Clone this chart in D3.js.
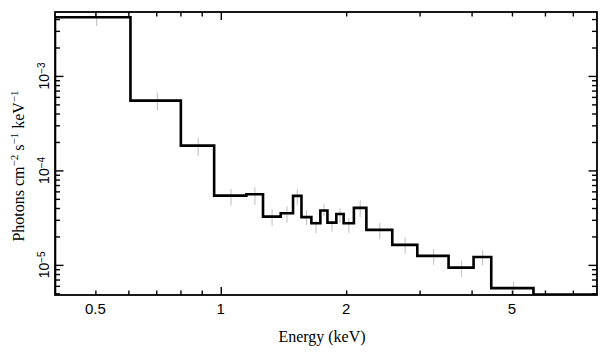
<!DOCTYPE html>
<html><head><meta charset="utf-8">
<script src="https://cdn.jsdelivr.net/npm/d3@7"></script>
<style>
html,body{margin:0;padding:0;background:#fff;}
svg{display:block;}
</style></head>
<body>
<svg id="c" width="609" height="357"></svg>
<script>
// ---- data ----
const binEdges = [0.4, 0.607, 0.802, 0.964, 1.152, 1.263, 1.393, 1.491, 1.562, 1.650, 1.734, 1.803, 1.894, 1.972, 2.087, 2.236, 2.580, 2.963, 3.522, 4.044, 4.459, 5.631, 8.0];
const modelValues = [4.18e-3, 5.48e-4, 1.83e-4, 5.41e-5, 5.60e-5, 3.24e-5, 3.52e-5, 5.37e-5, 3.20e-5, 2.76e-5, 3.76e-5, 2.80e-5, 3.46e-5, 2.76e-5, 4.01e-5, 2.35e-5, 1.63e-5, 1.245e-5, 9.36e-6, 1.21e-5, 5.67e-6, 4.85e-6];
const errHigh = [4.9e-3, 6.66e-4, 2.22e-4, 6.37e-5, 6.64e-5, 3.88e-5, 4.14e-5, 6.37e-5, 3.82e-5, 2.94e-5, 4.42e-5, 2.87e-5, 3.98e-5, 3.14e-5, 4.79e-5, 2.80e-5, 1.96e-5, 1.47e-5, 1.11e-5, 1.44e-5, 6.66e-6, null];
const errLow  = [3.38e-3, 4.29e-4, 1.42e-4, 4.24e-5, 4.31e-5, 2.59e-5, 2.80e-5, 4.31e-5, 2.65e-5, 2.16e-5, 3.30e-5, 2.25e-5, 2.78e-5, 2.16e-5, 3.20e-5, 1.87e-5, 1.31e-5, 1.0e-5, 7.41e-6, 9.83e-6, 4.6e-6, null];
const xLabelTicks = [0.5, 1, 2, 5];
const xMajorTicks = [1];
const xMinorTicks = [0.5, 0.6, 0.7, 0.8, 0.9, 2, 3, 4, 5, 6, 7];
const yLabelTicks = [{v:1e-3, e:"−3"}, {v:1e-4, e:"−4"}, {v:1e-5, e:"−5"}];
const yMajorTicks = [1e-3, 1e-4, 1e-5];
const yMinorTicks = [5e-6,6e-6,7e-6,8e-6,9e-6, 2e-5,3e-5,4e-5,5e-5,6e-5,7e-5,8e-5,9e-5, 2e-4,3e-4,4e-4,5e-4,6e-4,7e-4,8e-4,9e-4, 2e-3,3e-3,4e-3];

// ---- layout ----
const L = 55, R = 597, T = 12, B = 295;
const svg = d3.select("#c");
const x = d3.scaleLog().domain([0.4, 8]).range([L, R]);
const y = d3.scaleLog().domain([4.8e-6, 4.75e-3]).range([B, T]);

svg.append("defs").append("clipPath").attr("id","clip")
  .append("rect").attr("x",L).attr("y",T).attr("width",R-L).attr("height",B-T);

// error bars (grey)
const bins = modelValues.map((m,i)=>({lo:binEdges[i], hi:binEdges[i+1], m, eh:errHigh[i], el:errLow[i]}));
const gErr = svg.append("g").attr("clip-path","url(#clip)");
gErr.selectAll("line").data(bins.filter(d=>d.eh!==null)).join("line")
  .attr("x1", d=>x((d.lo+d.hi)/2)).attr("x2", d=>x((d.lo+d.hi)/2))
  .attr("y1", d=>y(d.eh)).attr("y2", d=>y(d.el))
  .attr("stroke","#c8c8c8").attr("stroke-width",1.2);

// step histogram
const pts = [[binEdges[0], y.domain()[0]]];
bins.forEach(d=>pts.push([d.lo, d.m]));
pts.push([binEdges[binEdges.length-1], modelValues[modelValues.length-1]]);
const line = d3.line().x(d=>x(d[0])).y(d=>y(d[1])).curve(d3.curveStepAfter);
svg.append("path").attr("clip-path","url(#clip)")
  .attr("d", line(pts)).attr("fill","none").attr("stroke","#000").attr("stroke-width",2.6)
  .attr("stroke-linejoin","miter");

// axes ticks
function styleAxis(g){ g.select(".domain").remove(); g.selectAll(".tick line").attr("stroke","#000").attr("stroke-width",1.4); g.selectAll(".tick text").remove(); }
svg.append("g").attr("transform",`translate(0,${B})`).call(d3.axisBottom(x).tickValues(xMinorTicks).tickSize(-4.5)).call(styleAxis);
svg.append("g").attr("transform",`translate(0,${B})`).call(d3.axisBottom(x).tickValues(xMajorTicks).tickSize(-8)).call(styleAxis);
svg.append("g").attr("transform",`translate(0,${T})`).call(d3.axisTop(x).tickValues(xMinorTicks).tickSize(-4.5)).call(styleAxis);
svg.append("g").attr("transform",`translate(0,${T})`).call(d3.axisTop(x).tickValues(xMajorTicks).tickSize(-8)).call(styleAxis);
svg.append("g").attr("transform",`translate(${L},0)`).call(d3.axisLeft(y).tickValues(yMinorTicks).tickSize(-5)).call(styleAxis);
svg.append("g").attr("transform",`translate(${L},0)`).call(d3.axisLeft(y).tickValues(yMajorTicks).tickSize(-8.5)).call(styleAxis);
svg.append("g").attr("transform",`translate(${R},0)`).call(d3.axisRight(y).tickValues(yMinorTicks).tickSize(-5)).call(styleAxis);
svg.append("g").attr("transform",`translate(${R},0)`).call(d3.axisRight(y).tickValues(yMajorTicks).tickSize(-8.5)).call(styleAxis);

// frame
svg.append("rect").attr("x",L).attr("y",T).attr("width",R-L).attr("height",B-T)
  .attr("fill","none").attr("stroke","#000").attr("stroke-width",1.8);

// x tick labels
const sans = "'Liberation Sans', Arial, Helvetica, sans-serif";
const serif = "'Liberation Serif', 'Times New Roman', Times, serif";
svg.append("g").selectAll("text").data(xLabelTicks).join("text")
  .attr("x", d=>x(d)).attr("y", 314).attr("text-anchor","middle")
  .attr("font-family", sans).attr("font-size", 15).attr("fill","#000")
  .text(d=>String(d));

// y tick labels (rotated, with superscript)
const yl = svg.append("g").selectAll("text").data(yLabelTicks).join("text")
  .attr("transform", d=>`translate(49,${y(d.v)}) rotate(-90)`)
  .attr("text-anchor","middle").attr("font-family", sans).attr("font-size", 14).attr("fill","#000");
yl.append("tspan").text("10");
yl.append("tspan").attr("dy","-0.45em").attr("font-size", 10).text(d=>d.e);

// axis titles
svg.append("text").attr("x", 322).attr("y", 342).attr("text-anchor","middle")
  .attr("font-family", serif).attr("font-size", 16).attr("fill","#000").text("Energy (keV)");

const yt = svg.append("text").attr("transform","translate(24,166) rotate(-90)")
  .attr("text-anchor","middle").attr("font-family", serif).attr("font-size", 16).attr("fill","#000");
const parts = [["Photons cm",0],["−2",1],[" s",0],["−1",1],[" keV",0],["−1",1]];
parts.forEach(p=>{
  const t = yt.append("tspan").text(p[0]);
  if(p[1]){ t.attr("font-size",11).attr("dy","-0.55em"); }
  else { t.attr("dy", yt.selectAll("tspan").size()>1 ? "0.38em" : null).attr("font-size",16); }
});
</script>
</body></html>
